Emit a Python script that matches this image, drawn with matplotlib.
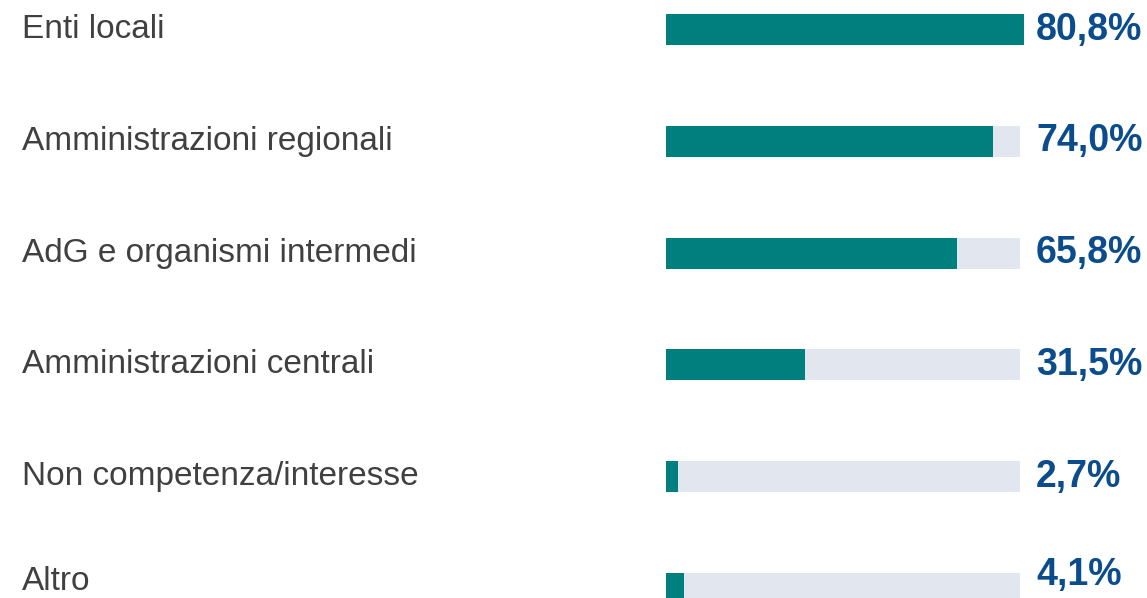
import matplotlib

matplotlib.use("Agg")
import matplotlib.pyplot as plt
import matplotlib.transforms as mtransforms

# data
CATEGORIES = [
    "Enti locali",
    "Amministrazioni regionali",
    "AdG e organismi intermedi",
    "Amministrazioni centrali",
    "Non competenza/interesse",
    "Altro",
]
VALUES = [80.8, 74.0, 65.8, 31.5, 2.7, 4.1]
VALUE_LABELS = ["80,8%", "74,0%", "65,8%", "31,5%", "2,7%", "4,1%"]
TRACK_MAX = 80

# style
BAR_COLOR = "#007f7f"
TRACK_COLOR = "#e2e7ef"
VALUE_COLOR = "#0b4c8c"
LABEL_COLOR = "#404040"
BAR_HEIGHT = 0.277

plt.rcParams["font.family"] = ["Liberation Sans", "DejaVu Sans"]

W, H = 1147, 598
fig = plt.figure(figsize=(W / 100, H / 100), dpi=100)
ax = fig.add_axes([666 / W, 0, 354 / W, 1])

ys = list(range(len(CATEGORIES)))
ax.barh(ys, [TRACK_MAX] * len(ys), height=BAR_HEIGHT, color=TRACK_COLOR, zorder=1)
bars = ax.barh(ys, VALUES, height=BAR_HEIGHT, color=BAR_COLOR, zorder=2)
for b in bars:
    b.set_clip_on(False)

step = (588.5 - 29.5) / (len(ys) - 1)
ax.set_ylim(len(ys) - 1 + (H - 588.5) / step, -29.5 / step)
ax.set_xlim(0, TRACK_MAX)
ax.axis("off")

trans = mtransforms.blended_transform_factory(fig.transFigure, ax.transData)
last = len(ys) - 1
for y, cat, lab in zip(ys, CATEGORIES, VALUE_LABELS):
    # bottom row sits at the figure edge: lift its texts so they stay inside
    lift_lab = 0.06 if y == last else 0.0
    lift_val = 0.12 if y == last else 0.0
    ax.text(22 / W, y - lift_lab, cat, transform=trans, ha="left", va="center",
            fontsize=24, color=LABEL_COLOR, clip_on=False)
    ax.text(1036 / W, y - lift_val, lab, transform=trans, ha="left", va="center",
            fontsize=27, fontweight="bold", color=VALUE_COLOR, clip_on=False)

fig.savefig("out.png", dpi=100, facecolor="white")
